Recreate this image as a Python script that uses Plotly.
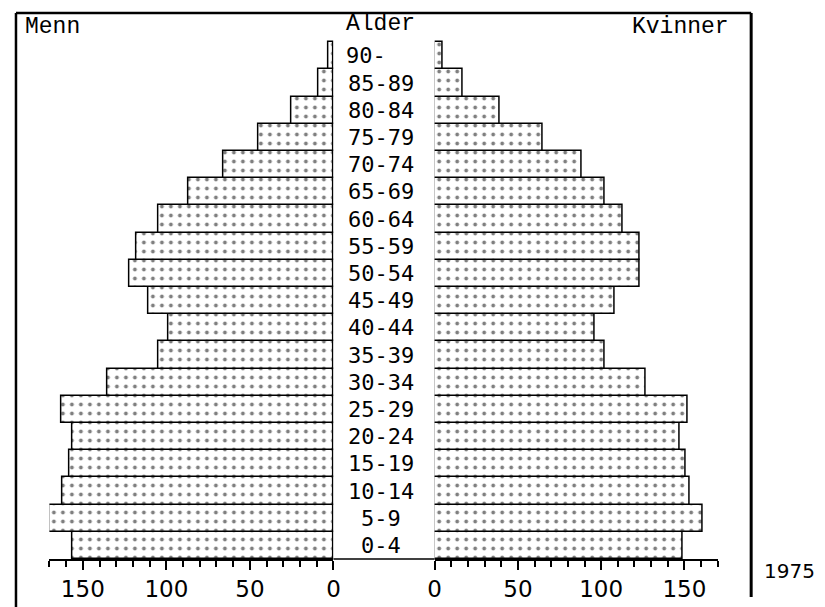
import plotly.graph_objects as go

# Age groups, bottom to top
ages = ["0-4", "5-9", "10-14", "15-19", "20-24", "25-29", "30-34", "35-39",
        "40-44", "45-49", "50-54", "55-59", "60-64", "65-69", "70-74",
        "75-79", "80-84", "85-89", "90-"]
menn = [156, 170, 162, 158, 156, 163, 135, 105, 99, 111, 122, 118, 105,
        87, 66, 45, 25, 9, 3]
kvinner = [149, 161, 153, 151, 147, 152, 127, 102, 96, 108, 123, 123, 113,
           102, 88, 65, 39, 17, 5]
tick_vals = [0, 50, 100, 150]
tick_text = ["0", "50", "100", "150"]
year_label = "1975"

OFF = 8                      # page body margin
W, H = 825 - OFF, 607 - OFF  # figure size
T, B = 13, 559               # plot area top / bottom in window px

def px(x):
    return (x - OFF) / W

def py(y):
    return (B - y) / (B - T)

pattern = dict(shape=".", fgcolor="black", bgcolor="white", size=9, solidity=0.14)
ypos = list(range(len(ages)))

fig = go.Figure()
for vals, ax in ((menn, "x"), (kvinner, "x2")):
    fig.add_trace(go.Bar(x=vals, y=ypos, orientation="h", xaxis=ax, yaxis="y",
                         width=1, marker=dict(color="white", pattern=pattern,
                                              line=dict(color="black", width=1.5)),
                         showlegend=False, hoverinfo="skip"))

axis_common = dict(
    tickvals=tick_vals, ticktext=tick_text, ticks="outside", ticklen=9,
    tickwidth=1.5, tickcolor="black", showline=True, linecolor="black",
    linewidth=1.5, showgrid=False, zeroline=False, fixedrange=True,
    tickfont=dict(family="DejaVu Sans", size=23, color="black"),
    minor=dict(dtick=10, ticks="outside", ticklen=6, tickwidth=1.5,
               tickcolor="black", showgrid=False),
)

fig.update_layout(
    width=W, height=H,
    margin=dict(l=0, r=0, t=T - OFF, b=H - (B - OFF)),
    paper_bgcolor="white", plot_bgcolor="white",
    barmode="overlay", bargap=0,
    xaxis=dict(domain=[px(43), px(332)], range=[170, 0], anchor="y", **axis_common),
    xaxis2=dict(domain=[px(435), px(723)], range=[0, 170], anchor="y", **axis_common),
    yaxis=dict(range=[-0.5, -0.5 + (B - T) / 27.2], visible=False, fixedrange=True),
)

# Age labels in the centre
age_font = dict(family="DejaVu Sans Mono", size=22, color="black")
for i, a in enumerate(ages):
    if a.endswith("-"):
        fig.add_annotation(x=px(343), y=i, xref="paper", yref="y", text=a,
                           showarrow=False, xanchor="left", font=age_font)
    else:
        fig.add_annotation(x=px(380), y=i, xref="paper", yref="y", text=a,
                           showarrow=False, xanchor="center", font=age_font)

head_font = dict(family="Liberation Mono", size=23, color="black")
fig.add_annotation(x=px(16), y=py(27), xref="paper", yref="paper", text="Menn",
                   showarrow=False, xanchor="left", yanchor="middle", font=head_font)
fig.add_annotation(x=px(380), y=py(24), xref="paper", yref="paper", text="Alder",
                   showarrow=False, xanchor="center", yanchor="middle", font=head_font)
fig.add_annotation(x=px(736), y=py(27), xref="paper", yref="paper", text="Kvinner",
                   showarrow=False, xanchor="right", yanchor="middle", font=head_font)
fig.add_annotation(x=px(768), y=py(571), xref="paper", yref="paper", text=year_label,
                   showarrow=False, xanchor="left", yanchor="middle",
                   font=dict(family="DejaVu Sans", size=20, color="black"))

# Frame lines
line = dict(color="black", width=2.5)
fig.add_shape(type="line", xref="paper", yref="paper", x0=px(9), x1=px(757),
              y0=py(13), y1=py(13), line=line)
fig.add_shape(type="line", xref="paper", yref="paper", x0=px(9), x1=px(9),
              y0=py(13), y1=py(607), line=line)
fig.add_shape(type="line", xref="paper", yref="paper", x0=px(757), x1=px(757),
              y0=py(13), y1=py(597), line=dict(color="black", width=3))
# Baseline across the central gap
fig.add_shape(type="line", xref="paper", yref="paper", x0=px(332), x1=px(435),
              y0=py(B), y1=py(B), line=dict(color="black", width=1.5))

fig.write_html("out.html")
